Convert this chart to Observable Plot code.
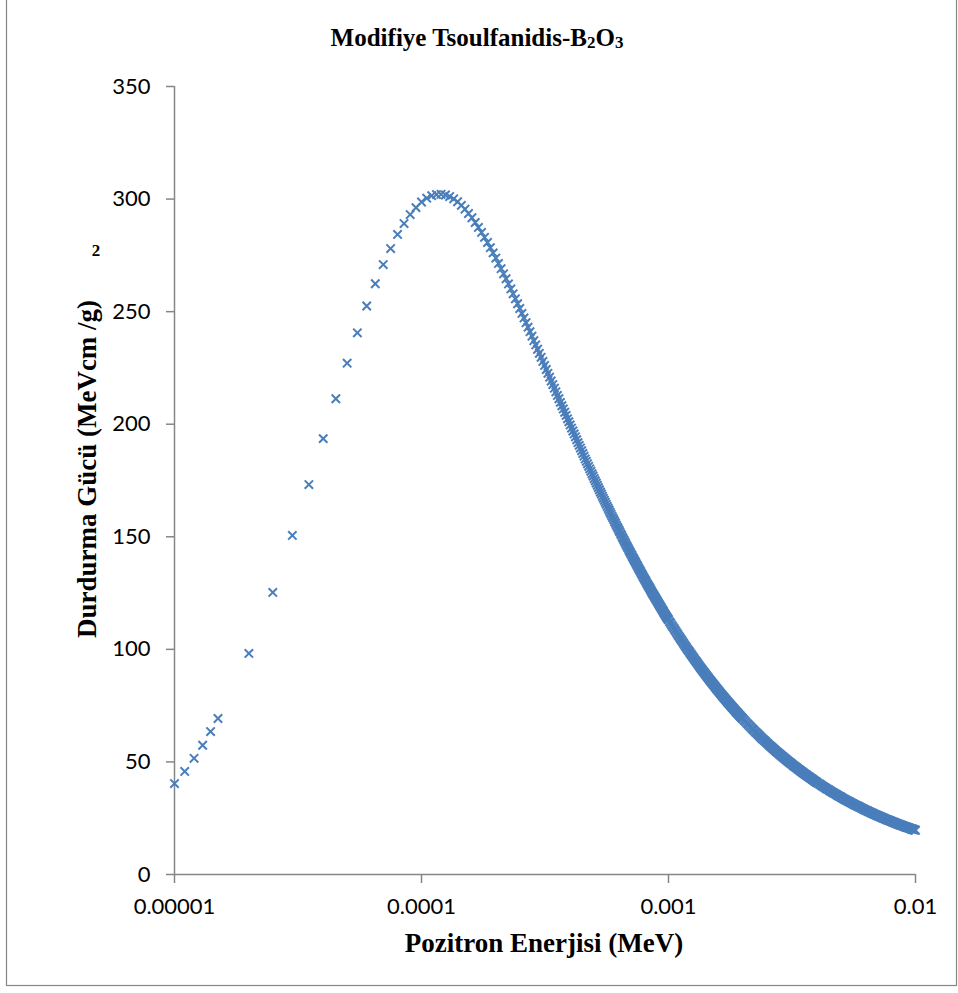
<!DOCTYPE html>
<html>
<head>
<meta charset="utf-8">
<script src="https://cdn.jsdelivr.net/npm/d3@7"></script>
<script src="https://cdn.jsdelivr.net/npm/@observablehq/plot@0.6"></script>
<style>
  html, body { margin: 0; padding: 0; background: #fff; }
  #chart { position: relative; width: 958px; height: 993px; }
</style>
</head>
<body>
<div id="chart"></div>
<script>
// Stopping power of B2O3 for positrons (modified Tsoulfanidis), energies in eV.
// Rising part below the peak.
const riseEnergyEv = [10, 11, 12, 13, 14, 15, 20, 25, 30, 35, 40, 45, 50, 55, 60, 65, 70, 75, 80, 85, 90, 95, 100, 105, 110, 115, 120, 125];
const risePower = [40.4, 45.8, 51.6, 57.4, 63.5, 69.3, 98.2, 125.3, 150.6, 173.2, 193.6, 211.3, 227.1, 240.6, 252.5, 262.4, 270.9, 278.0, 284.3, 289.1, 293.1, 296.2, 298.7, 300.4, 301.5, 302.0, 302.1, 301.8];

// Falling part, 130 - 500 eV
const fallEnergyA = [130, 135, 140, 145, 150, 155, 160, 165, 170, 175,
  180, 185, 190, 195, 200, 205, 210, 215, 220, 225,
  230, 235, 240, 245, 250, 255, 260, 265, 270, 275,
  280, 285, 290, 295, 300, 305, 310, 315, 320, 325,
  330, 335, 340, 345, 350, 355, 360, 365, 370, 375,
  380, 385, 390, 395, 400, 405, 410, 415, 420, 425,
  430, 435, 440, 445, 450, 455, 460, 465, 470, 475,
  480, 485, 490, 495, 500];
const fallPowerA = [301.1, 300.1, 298.8, 297.2, 295.5, 293.6, 291.7, 289.6, 287.4, 285.2,
  283.0, 280.7, 278.4, 276.1, 273.8, 271.4, 269.1, 266.8, 264.6, 262.3,
  260.1, 257.9, 255.7, 253.5, 251.4, 249.2, 247.2, 245.1, 243.1, 241.1,
  239.1, 237.1, 235.2, 233.3, 231.5, 229.7, 227.9, 226.1, 224.3, 222.6,
  220.9, 219.2, 217.6, 216.0, 214.4, 212.8, 211.3, 209.7, 208.2, 206.8,
  205.3, 203.9, 202.4, 201.1, 199.7, 198.3, 197.0, 195.7, 194.4, 193.1,
  191.8, 190.6, 189.4, 188.2, 187.0, 185.8, 184.6, 183.5, 182.4, 181.3,
  180.2, 179.1, 178.0, 177.0, 175.9];

// 505 - 1000 eV
const fallEnergyB = [505, 510, 515, 520, 525, 530, 535, 540, 545, 550,
  555, 560, 565, 570, 575, 580, 585, 590, 595, 600,
  605, 610, 615, 620, 625, 630, 635, 640, 645, 650,
  655, 660, 665, 670, 675, 680, 685, 690, 695, 700,
  705, 710, 715, 720, 725, 730, 735, 740, 745, 750,
  755, 760, 765, 770, 775, 780, 785, 790, 795, 800,
  805, 810, 815, 820, 825, 830, 835, 840, 845, 850,
  855, 860, 865, 870, 875, 880, 885, 890, 895, 900,
  905, 910, 915, 920, 925, 930, 935, 940, 945, 950,
  955, 960, 965, 970, 975, 980, 985, 990, 995, 1000];
const fallPowerB = [174.9, 173.9, 172.9, 171.9, 170.9, 169.9, 169.0, 168.0, 167.1, 166.2,
  165.3, 164.4, 163.5, 162.6, 161.8, 160.9, 160.1, 159.2, 158.4, 157.6,
  156.8, 156.0, 155.2, 154.4, 153.7, 152.9, 152.2, 151.4, 150.7, 149.9,
  149.2, 148.5, 147.8, 147.1, 146.4, 145.7, 145.1, 144.4, 143.7, 143.1,
  142.4, 141.8, 141.1, 140.5, 139.9, 139.3, 138.7, 138.1, 137.5, 136.9,
  136.3, 135.7, 135.1, 134.6, 134.0, 133.4, 132.9, 132.3, 131.8, 131.2,
  130.7, 130.2, 129.6, 129.1, 128.6, 128.1, 127.6, 127.1, 126.6, 126.1,
  125.6, 125.1, 124.6, 124.2, 123.7, 123.2, 122.8, 122.3, 121.9, 121.4,
  121.0, 120.5, 120.1, 119.6, 119.2, 118.8, 118.3, 117.9, 117.5, 117.1,
  116.7, 116.2, 115.8, 115.4, 115.0, 114.6, 114.2, 113.9, 113.5, 113.1];

// 1010 - 2000 eV
const fallEnergyC = [1010, 1020, 1030, 1040, 1050, 1060, 1070, 1080, 1090, 1100,
  1110, 1120, 1130, 1140, 1150, 1160, 1170, 1180, 1190, 1200,
  1210, 1220, 1230, 1240, 1250, 1260, 1270, 1280, 1290, 1300,
  1310, 1320, 1330, 1340, 1350, 1360, 1370, 1380, 1390, 1400,
  1410, 1420, 1430, 1440, 1450, 1460, 1470, 1480, 1490, 1500,
  1510, 1520, 1530, 1540, 1550, 1560, 1570, 1580, 1590, 1600,
  1610, 1620, 1630, 1640, 1650, 1660, 1670, 1680, 1690, 1700,
  1710, 1720, 1730, 1740, 1750, 1760, 1770, 1780, 1790, 1800,
  1810, 1820, 1830, 1840, 1850, 1860, 1870, 1880, 1890, 1900,
  1910, 1920, 1930, 1940, 1950, 1960, 1970, 1980, 1990, 2000];
const fallPowerC = [112.3, 111.6, 110.8, 110.1, 109.4, 108.7, 108.0, 107.3, 106.6, 105.9,
  105.3, 104.6, 104.0, 103.4, 102.7, 102.1, 101.5, 100.9, 100.3, 99.7,
  99.2, 98.6, 98.0, 97.5, 96.9, 96.4, 95.9, 95.3, 94.8, 94.3,
  93.8, 93.3, 92.8, 92.3, 91.8, 91.3, 90.9, 90.4, 89.9, 89.5,
  89.0, 88.6, 88.1, 87.7, 87.3, 86.8, 86.4, 86.0, 85.6, 85.2,
  84.8, 84.4, 84.0, 83.6, 83.2, 82.8, 82.4, 82.1, 81.7, 81.3,
  81.0, 80.6, 80.2, 79.9, 79.5, 79.2, 78.8, 78.5, 78.2, 77.8,
  77.5, 77.2, 76.8, 76.5, 76.2, 75.9, 75.6, 75.3, 75.0, 74.7,
  74.3, 74.1, 73.8, 73.5, 73.2, 72.9, 72.6, 72.3, 72.0, 71.8,
  71.5, 71.2, 70.9, 70.7, 70.4, 70.1, 69.9, 69.6, 69.4, 69.1];

// 2025 - 4000 eV
const fallEnergyD = [2025, 2050, 2075, 2100, 2125, 2150, 2175, 2200, 2225, 2250,
  2275, 2300, 2325, 2350, 2375, 2400, 2425, 2450, 2475, 2500,
  2525, 2550, 2575, 2600, 2625, 2650, 2675, 2700, 2725, 2750,
  2775, 2800, 2825, 2850, 2875, 2900, 2925, 2950, 2975, 3000,
  3025, 3050, 3075, 3100, 3125, 3150, 3175, 3200, 3225, 3250,
  3275, 3300, 3325, 3350, 3375, 3400, 3425, 3450, 3475, 3500,
  3525, 3550, 3575, 3600, 3625, 3650, 3675, 3700, 3725, 3750,
  3775, 3800, 3825, 3850, 3875, 3900, 3925, 3950, 3975, 4000];
const fallPowerD = [68.5, 67.9, 67.2, 66.7, 66.1, 65.5, 64.9, 64.4, 63.9, 63.3,
  62.8, 62.3, 61.8, 61.3, 60.8, 60.3, 59.9, 59.4, 59.0, 58.5,
  58.1, 57.6, 57.2, 56.8, 56.4, 56.0, 55.6, 55.2, 54.8, 54.4,
  54.1, 53.7, 53.3, 53.0, 52.6, 52.3, 52.0, 51.6, 51.3, 51.0,
  50.6, 50.3, 50.0, 49.7, 49.4, 49.1, 48.8, 48.5, 48.2, 47.9,
  47.7, 47.4, 47.1, 46.8, 46.6, 46.3, 46.0, 45.8, 45.5, 45.3,
  45.0, 44.8, 44.5, 44.3, 44.1, 43.8, 43.6, 43.4, 43.2, 42.9,
  42.7, 42.5, 42.3, 42.1, 41.8, 41.6, 41.4, 41.2, 41.0, 40.8];

// 4050 - 10000 eV
const fallEnergyE = [4050, 4100, 4150, 4200, 4250, 4300, 4350, 4400, 4450, 4500,
  4550, 4600, 4650, 4700, 4750, 4800, 4850, 4900, 4950, 5000,
  5050, 5100, 5150, 5200, 5250, 5300, 5350, 5400, 5450, 5500,
  5550, 5600, 5650, 5700, 5750, 5800, 5850, 5900, 5950, 6000,
  6050, 6100, 6150, 6200, 6250, 6300, 6350, 6400, 6450, 6500,
  6550, 6600, 6650, 6700, 6750, 6800, 6850, 6900, 6950, 7000,
  7050, 7100, 7150, 7200, 7250, 7300, 7350, 7400, 7450, 7500,
  7550, 7600, 7650, 7700, 7750, 7800, 7850, 7900, 7950, 8000,
  8050, 8100, 8150, 8200, 8250, 8300, 8350, 8400, 8450, 8500,
  8550, 8600, 8650, 8700, 8750, 8800, 8850, 8900, 8950, 9000,
  9050, 9100, 9150, 9200, 9250, 9300, 9350, 9400, 9450, 9500,
  9550, 9600, 9650, 9700, 9750, 9800, 9850, 9900, 9950, 10000];
const fallPowerE = [40.4, 40.1, 39.7, 39.3, 38.9, 38.6, 38.2, 37.9, 37.6, 37.2,
  36.9, 36.6, 36.3, 36.0, 35.7, 35.4, 35.1, 34.8, 34.6, 34.3,
  34.0, 33.7, 33.5, 33.2, 33.0, 32.7, 32.5, 32.3, 32.0, 31.8,
  31.6, 31.3, 31.1, 30.9, 30.7, 30.5, 30.3, 30.1, 29.9, 29.7,
  29.5, 29.3, 29.1, 28.9, 28.7, 28.5, 28.4, 28.2, 28.0, 27.8,
  27.7, 27.5, 27.3, 27.2, 27.0, 26.8, 26.7, 26.5, 26.4, 26.2,
  26.1, 25.9, 25.8, 25.6, 25.5, 25.4, 25.2, 25.1, 24.9, 24.8,
  24.7, 24.5, 24.4, 24.3, 24.2, 24.0, 23.9, 23.8, 23.7, 23.6,
  23.4, 23.3, 23.2, 23.1, 23.0, 22.9, 22.7, 22.6, 22.5, 22.4,
  22.3, 22.2, 22.1, 22.0, 21.9, 21.8, 21.7, 21.6, 21.5, 21.4,
  21.3, 21.2, 21.1, 21.0, 20.9, 20.8, 20.8, 20.7, 20.6, 20.5,
  20.4, 20.3, 20.2, 20.1, 20.1, 20.0, 19.9, 19.8, 19.7, 19.7];

// Axis ticks
const xTicks = [0.00001, 0.0001, 0.001, 0.01];
const xTickLabels = ["0.00001", "0.0001", "0.001", "0.01"];
const yTicks = [0, 50, 100, 150, 200, 250, 300, 350];

const segments = [
  [riseEnergyEv, risePower],
  [fallEnergyA, fallPowerA],
  [fallEnergyB, fallPowerB],
  [fallEnergyC, fallPowerC],
  [fallEnergyD, fallPowerD],
  [fallEnergyE, fallPowerE]
];
const points = segments.flatMap(([ev, p]) =>
  ev.map((e, i) => ({energy: e / 1e6, power: p[i]})).filter(d => d.power != null));

const axisGrey = "#868686";
const seriesBlue = "#4a7ebb";

const chart = Plot.plot({
  width: 958,
  height: 993,
  marginLeft: 174,
  marginRight: 43,
  marginTop: 86,
  marginBottom: 119,
  style: {fontFamily: "Lato, 'Open Sans', sans-serif", fontSize: "22px", color: "#000", background: "#fff"},
  x: {type: "log", domain: [1e-5, 1e-2]},
  y: {domain: [0, 350]},
  marks: [
    Plot.axisY({ticks: yTicks, tickSize: 8, tickPadding: 16, stroke: axisGrey, strokeWidth: 1.5,
      label: null, tickFormat: d => String(d)}),
    Plot.axisX({ticks: xTicks, tickSize: 9, tickPadding: 15, stroke: axisGrey, strokeWidth: 1.5,
      label: null, tickFormat: d => xTickLabels[xTicks.findIndex(t => Math.abs(t - d) < t * 1e-6)]}),
    Plot.ruleX([1e-5], {stroke: axisGrey, strokeWidth: 1.5}),
    Plot.ruleY([0], {stroke: axisGrey, strokeWidth: 1.5}),
    Plot.dot(points, {x: "energy", y: "power", symbol: "times", r: 3.9, stroke: seriesBlue, strokeWidth: 2})
  ]
});

document.getElementById("chart").appendChild(chart);

// Frame, title and axis titles
const svg = d3.select(chart);
svg.append("rect")
  .attr("x", 6.5).attr("y", -2).attr("width", 950).attr("height", 987.5)
  .attr("fill", "none").attr("stroke", axisGrey).attr("stroke-width", 1.2);

const serif = "'Liberation Serif', 'Times New Roman', serif";
const title = svg.append("text")
  .attr("x", 477).attr("y", 46)
  .attr("text-anchor", "middle")
  .attr("font-family", serif).attr("font-weight", "bold").attr("font-size", 25)
  .attr("fill", "#000");
title.append("tspan").text("Modifiye Tsoulfanidis-B");
title.append("tspan").attr("font-size", 17).attr("dy", 2).text("2");
title.append("tspan").attr("dy", -2).text("O");
title.append("tspan").attr("font-size", 17).attr("dy", 2).text("3");

svg.append("text")
  .attr("x", 544).attr("y", 952)
  .attr("text-anchor", "middle")
  .attr("font-family", serif).attr("font-weight", "bold").attr("font-size", 27)
  .attr("fill", "#000")
  .text("Pozitron Enerjisi (MeV)");

svg.append("text")
  .attr("transform", "translate(96,469) rotate(-90)")
  .attr("text-anchor", "middle")
  .attr("font-family", serif).attr("font-weight", "bold").attr("font-size", 27)
  .attr("fill", "#000")
  .text("Durdurma Gücü (MeVcm /g)");

svg.append("text")
  .attr("x", 96).attr("y", 256)
  .attr("text-anchor", "middle")
  .attr("font-family", serif).attr("font-weight", "bold").attr("font-size", 17)
  .attr("fill", "#000")
  .text("2");
</script>
</body>
</html>
